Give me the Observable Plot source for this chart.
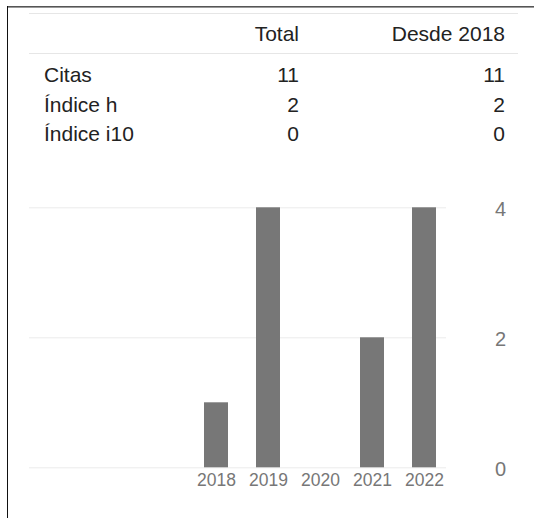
<!DOCTYPE html>
<html>
<head>
<meta charset="utf-8">
<script src="https://cdn.jsdelivr.net/npm/d3@7"></script>
<script src="https://cdn.jsdelivr.net/npm/@observablehq/plot@0.6"></script>
<style>
  html, body { margin: 0; padding: 0; background: #fff; }
  #wrap { position: relative; width: 534px; height: 518px; overflow: hidden;
          font-family: "Liberation Sans", Arial, sans-serif; color: #222; }
  .bt1 { position: absolute; left: 7px; top: 6px; width: 527px; height: 1px; background: #555; }
  .bt2 { position: absolute; left: 7px; top: 7px; width: 527px; height: 1px; background: #999; }
  .bl  { position: absolute; left: 7px; top: 6px; width: 1px; height: 512px; background: #111; }
  .hr  { position: absolute; left: 29px; width: 489px; height: 1px; background: #e6e6e6; }
  .cell { position: absolute; font-size: 21px; line-height: 21px; white-space: nowrap; }
  .lab { left: 44px; }
  .c1 { right: calc(534px - 299px); text-align: right; }
  .c2 { right: calc(534px - 505px); text-align: right; }
  #chart { position: absolute; left: 0; top: 180px; }
</style>
</head>
<body>
<div id="wrap">
  <div class="bt1"></div><div class="bt2"></div><div class="bl"></div>
  <div class="hr" style="top:13px"></div>
  <div class="hr" style="top:53px"></div>
  <div id="table"></div>
  <div id="chart"></div>
</div>
<script>
// ---- data ----
const headers = ["Total", "Desde 2018"];
const rowLabels = ["Citas", "Índice h", "Índice i10"];
const totalValues = [11, 2, 0];
const sinceValues = [11, 2, 0];
const years = ["2018", "2019", "2020", "2021", "2022"];
const citations = [1, 4, 0, 2, 4];
const yTicks = [0, 2, 4];

// ---- table ----
const table = document.getElementById("table");
function cell(text, cls, top) {
  const d = document.createElement("div");
  d.className = "cell " + cls;
  d.style.top = top + "px";
  d.textContent = text;
  table.appendChild(d);
}
const headerTop = 22.9;
cell(headers[0], "c1", headerTop);
cell(headers[1], "c2", headerTop);
const rowTops = [64.2, 93.9, 123.2];
rowLabels.forEach((r, i) => {
  cell(r, "lab", rowTops[i]);
  cell(String(totalValues[i]), "c1", rowTops[i]);
  cell(String(sinceValues[i]), "c2", rowTops[i]);
});

// ---- chart ----
const data = years.map((y, i) => ({year: y, count: citations[i]}));
const chart = Plot.plot({
  width: 534,
  height: 338,
  marginLeft: 29,
  marginRight: 88,
  marginTop: 27.3,
  marginBottom: 50.7,
  style: {fontFamily: "'Liberation Sans', Arial, sans-serif", color: "#777", background: "transparent"},
  x: {domain: years, range: [189.6, 449.7], paddingInner: 0.533, paddingOuter: 0.2665, label: null},
  y: {domain: [0, 4], label: null},
  marks: [
    Plot.gridY(yTicks, {stroke: "#ececec", strokeOpacity: 1}),
    Plot.barY(data, {x: "year", y: "count", fill: "#777"}),
    Plot.axisX(years, {tickSize: 0, tickPadding: 6, fontSize: 17.5, label: null}),
    Plot.axisY(yTicks, {anchor: "right", tickSize: 0, tickPadding: 54, textAnchor: "middle", fontSize: 20, dy: 1.5, label: null, tickFormat: d => String(d)})
  ]
});
document.getElementById("chart").appendChild(chart);
</script>
</body>
</html>
